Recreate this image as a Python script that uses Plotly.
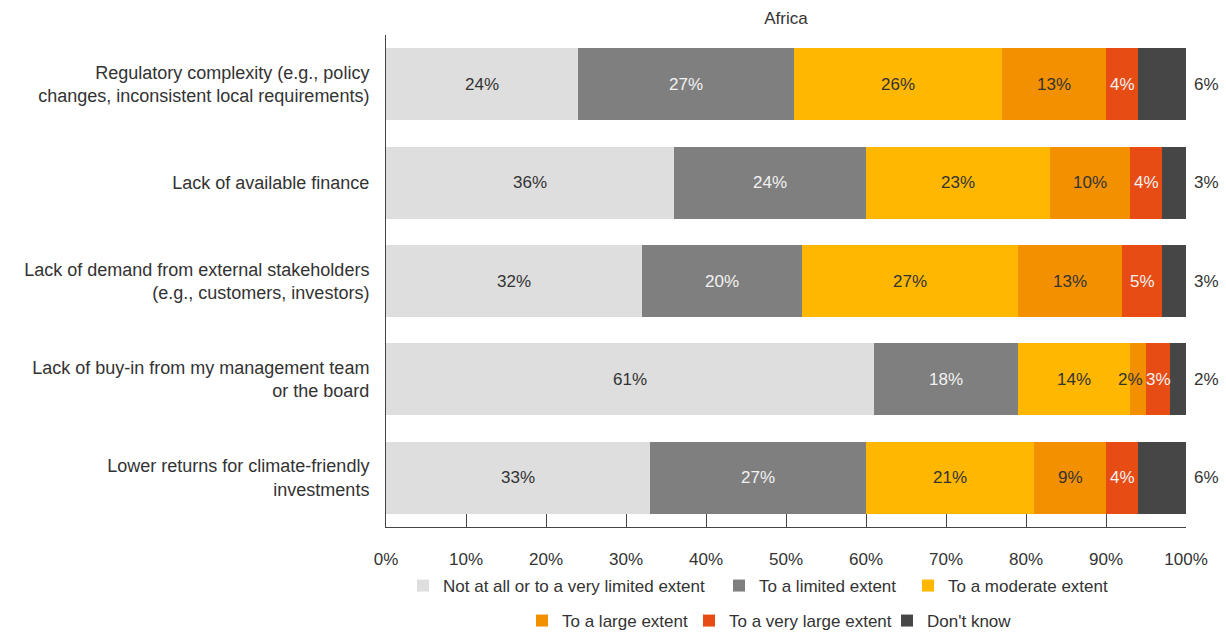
import plotly.graph_objects as go

categories = [
    "Regulatory complexity (e.g., policy<br>changes, inconsistent local requirements)",
    "Lack of available finance",
    "Lack of demand from external stakeholders<br>(e.g., customers, investors)",
    "Lack of buy-in from my management team<br>or the board",
    "Lower returns for climate-friendly<br>investments",
]
series_names = [
    "Not at all or to a very limited extent",
    "To a limited extent",
    "To a moderate extent",
    "To a large extent",
    "To a very large extent",
    "Don't know",
]
not_at_all = [24, 36, 32, 61, 33]
limited = [27, 24, 20, 18, 27]
moderate = [26, 23, 27, 14, 21]
large = [13, 10, 13, 2, 9]
very_large = [4, 4, 5, 3, 4]
dont_know = [6, 3, 3, 2, 6]
x_ticks = [0, 10, 20, 30, 40, 50, 60, 70, 80, 90, 100]

values = [not_at_all, limited, moderate, large, very_large, dont_know]
colors = ["#DEDEDE", "#7F7F7F", "#FFB700", "#F39000", "#E64C14", "#464646"]
text_colors = ["#333333", "#F2F2F2", "#333333", "#333333", "#F2F2F2", "#333333"]

# one legend box per series, laid out in two rows under the axis
legend_ids = ["legend", "legend2", "legend3", "legend4", "legend5", "legend6"]
legend_left_px = [403, 719, 908, 522, 689, 887]
legend_row_px = [586, 586, 586, 621, 621, 621]

FONT = "Liberation Sans, Arial, sans-serif"
FS = 17
W, H = 1226, 632

fig = go.Figure()
for name, vals, col, lg in zip(series_names, values, colors, legend_ids):
    fig.add_trace(go.Bar(
        y=categories, x=vals, name=name, orientation="h",
        marker=dict(color=col, line=dict(width=0)),
        legend=lg, hoverinfo="x+name",
    ))

# value labels: centred in segments, "Don't know" placed past the bar end
annotations = []
for i, cat in enumerate(categories):
    start = 0
    for s, vals in enumerate(values):
        v = vals[i]
        if s < len(values) - 1:
            xshift = -8 if v <= 2 else 0
            annotations.append(dict(
                x=start + v / 2, y=cat, xref="x", yref="y",
                text=f"{v}%", showarrow=False, xshift=xshift,
                font=dict(size=FS, color=text_colors[s], family=FONT),
            ))
        else:
            annotations.append(dict(
                x=start + v, y=cat, xref="x", yref="y",
                text=f"{v}%", showarrow=False, xanchor="left", xshift=6,
                font=dict(size=FS, color="#333333", family=FONT),
            ))
        start += v

legend_layout = {}
for lg, lx, ly in zip(legend_ids, legend_left_px, legend_row_px):
    legend_layout[lg] = dict(
        orientation="h", xref="container", x=lx / W, xanchor="left",
        yref="container", y=1 - ly / H, yanchor="middle",
        bgcolor="rgba(0,0,0,0)", borderwidth=0,
        font=dict(size=FS, color="#333333", family=FONT), itemwidth=30,
    )

fig.update_layout(
    width=W, height=H,
    barmode="stack", bargap=0.27,
    plot_bgcolor="white", paper_bgcolor="white",
    margin=dict(l=386, r=40, t=35, b=105, autoexpand=False),
    font=dict(family=FONT, size=FS, color="#333333"),
    title=dict(text="Africa", x=0.5, xref="paper", xanchor="center",
               yref="container", y=1 - 18 / H, yanchor="middle",
               font=dict(size=FS, color="#333333", family=FONT)),
    xaxis=dict(
        range=[0, 100], tickvals=x_ticks,
        ticktext=[f"{t}%" for t in x_ticks],
        showgrid=False, zeroline=False,
        showline=True, linecolor="#444444", linewidth=1,
        ticks="inside", ticklen=13, tickcolor="#444444",
        ticklabelstandoff=17,
        tickfont=dict(size=FS, color="#333333"),
        fixedrange=True,
    ),
    yaxis=dict(
        autorange="reversed", showgrid=False, zeroline=False,
        showline=True, linecolor="#444444", linewidth=1,
        ticks="", ticklabelstandoff=12,
        tickfont=dict(size=18, color="#333333"),
        fixedrange=True,
    ),
    annotations=annotations,
    showlegend=True,
    **legend_layout,
)

fig.write_html("out.html")
